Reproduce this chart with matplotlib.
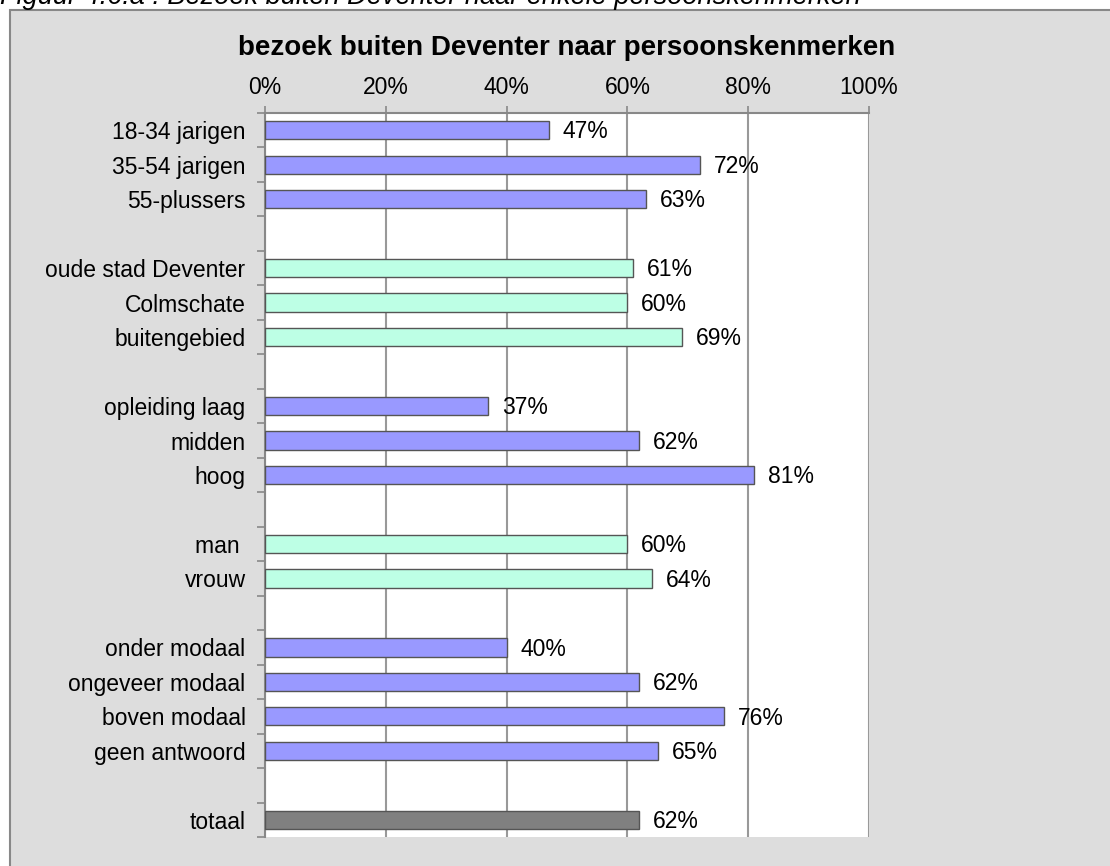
import matplotlib.pyplot as plt
from matplotlib.patches import Rectangle

# data
categories = ['18-34 jarigen', '35-54 jarigen', '55-plussers', '',
              'oude stad Deventer', 'Colmschate', 'buitengebied', '',
              'opleiding laag', 'midden', 'hoog', '',
              'man ', 'vrouw', '',
              'onder modaal', 'ongeveer modaal', 'boven modaal', 'geen antwoord', '',
              'totaal']
values = [47, 72, 63, None,
          61, 60, 69, None,
          37, 62, 81, None,
          60, 64, None,
          40, 62, 76, 65, None,
          62]
groups = ['a', 'a', 'a', '',
          'b', 'b', 'b', '',
          'a', 'a', 'a', '',
          'b', 'b', '',
          'a', 'a', 'a', 'a', '',
          't']
colors = {'a': '#9999FF', 'b': '#BDFFE5', 't': '#808080'}
xticks = [0, 20, 40, 60, 80, 100]

plt.rcParams['font.family'] = ['Liberation Sans', 'DejaVu Sans']

fig = plt.figure(figsize=(11.1, 8.66), dpi=100)
fig.patch.set_facecolor('white')
fig.add_artist(Rectangle((10 / 1110, -0.01), 1.0, 1 - 10 / 866 + 0.01,
                         transform=fig.transFigure, facecolor='#DDDDDD',
                         edgecolor='#888888', linewidth=1.5, zorder=-10))
fig.text(0.0, 1 - 4 / 866, 'Figuur 4.6.a : Bezoek buiten Deventer naar enkele persoonskenmerken',
         fontsize=19.5, style='italic', va='baseline', ha='left')

ax = fig.add_axes([265 / 1110, 1 - 837 / 866, (869 - 265) / 1110, (837 - 113) / 866])
ax.set_facecolor('white')

ypos = list(range(len(categories)))
for y, v, g in zip(ypos, values, groups):
    if v is None:
        continue
    ax.barh(y, v, height=0.53, color=colors[g], edgecolor='#555555', linewidth=1.0, zorder=3)
    ax.text(v + 2.3, y + 0.05, f'{v}%', va='center', ha='left', fontsize=16.5, zorder=4)

ax.set_xlim(0, 100)
ax.set_ylim(len(categories) - 0.5, -0.5)
ax.xaxis.tick_top()
ax.set_xticks(xticks)
ax.set_xticklabels([f'{t}%' for t in xticks], fontsize=16.5)
ax.tick_params(axis='x', length=5, width=1.2, color='#888888', pad=5)
ax.grid(axis='x', color='#999999', linewidth=1.5, zorder=0)

ax.set_yticks(ypos)
ax.set_yticklabels(categories, fontsize=16.5)
ax.tick_params(axis='y', which='major', length=0, pad=14)
ax.set_yticks([y - 0.5 for y in ypos] + [len(categories) - 0.5], minor=True)
ax.tick_params(axis='y', which='minor', length=6, width=1.2, color='#888888')

for s in ['right', 'bottom']:
    ax.spines[s].set_visible(False)
for s in ['left', 'top']:
    ax.spines[s].set_color('#888888')
    ax.spines[s].set_linewidth(1.5)

fig.text(567 / 1110, 1 - 48 / 866, 'bezoek buiten Deventer naar persoonskenmerken',
         fontsize=20, fontweight='bold', ha='center', va='center')

plt.savefig('out.png', dpi=100)
